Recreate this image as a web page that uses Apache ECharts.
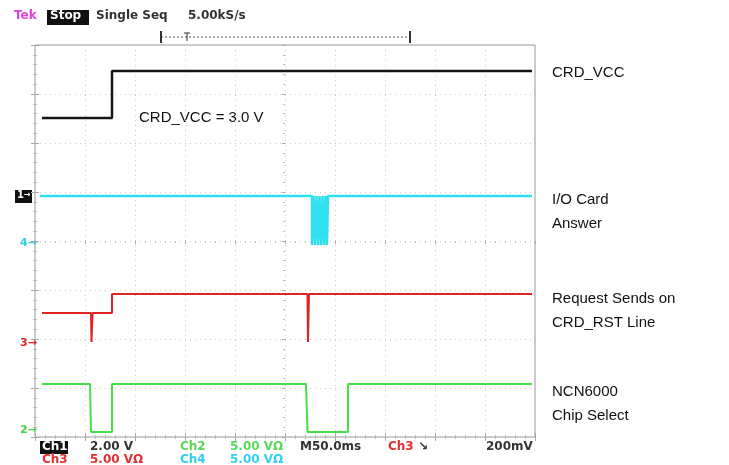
<!DOCTYPE html>
<html>
<head>
<meta charset="utf-8">
<script src="https://cdn.jsdelivr.net/npm/echarts@6/dist/echarts.min.js"></script>
<style>
  html, body { margin: 0; padding: 0; background: #fff; }
  #scope { width: 729px; height: 465px; }
</style>
</head>
<body>
<div id="scope"></div>
<script>
// screen is 10 x 8 divisions, values read in divisions
const vccTrace = [[0.14, 6.51], [1.54, 6.51], [1.54, 7.47], [9.94, 7.47]];
const ioTrace = [
  [0.1, 4.92], [5.54, 4.92], [5.54, 3.92], [5.57, 3.92], [5.57, 4.92], [5.60, 4.92],
  [5.60, 3.92], [5.63, 3.92], [5.63, 4.92], [5.66, 4.92], [5.66, 3.92], [5.69, 3.92],
  [5.69, 4.92], [5.72, 4.92], [5.72, 3.92], [5.75, 3.92], [5.75, 4.92], [5.78, 4.92],
  [5.78, 3.92], [5.81, 3.92], [5.81, 4.92], [5.84, 4.92], [5.84, 3.92], [5.86, 3.92],
  [5.86, 4.92], [9.94, 4.92]
];
const rstTrace = [
  [0.14, 2.53], [1.12, 2.53], [1.13, 1.94], [1.15, 2.53], [1.54, 2.53], [1.54, 2.92],
  [5.45, 2.92], [5.46, 1.94], [5.48, 2.92], [9.94, 2.92]
];
const csTrace = [
  [0.14, 1.08], [1.1, 1.08], [1.12, 0.1], [1.54, 0.1], [1.54, 1.08], [5.42, 1.08],
  [5.45, 0.1], [6.26, 0.1], [6.26, 1.08], [9.94, 1.08]
];
const traceNames = ["CRD_VCC", "I/O Card Answer", "CRD_RST", "Chip Select"];
const traceColors = ["#151515", "#2fe0ee", "#e02424", "#45e045"];
const traceWidths = [2.5, 2.5, 2, 2];
const sideLabels = ["CRD_VCC", "I/O Card\nAnswer", "Request Sends on\nCRD_RST Line", "NCN6000\nChip Select"];
const sideLabelY = [70, 197, 296, 389];

const myChart = echarts.init(document.getElementById("scope"));

const grid = { left: 35, top: 45, width: 500, height: 392 };
const scopeFont = "DejaVu Sans";

function axisBase(min, max, tickInside) {
  return {
    type: "value",
    min: min,
    max: max,
    interval: 1,
    axisLabel: { show: false },
    axisLine: { show: false },
    axisTick: { show: true, inside: tickInside, length: 4, lineStyle: { color: "#aaa" } },
    minorTick: { show: true, splitNumber: 5, length: 2, lineStyle: { color: "#bbb" } },
    splitLine: { show: false }
  };
}

// edge axes: ticks point into the screen
let xBottom = axisBase(0, 10, false);
xBottom.position = "bottom";
xBottom.splitLine = { show: true, lineStyle: { color: "#c8c8c8", type: [1, 4] } };
let xTop = axisBase(0, 10, false);
xTop.position = "top";
let xCenter = axisBase(0, 10, false);
xCenter.position = "bottom";
xCenter.offset = -196;
xCenter.axisTick.length = 3;
let yLeft = axisBase(0, 8, false);
yLeft.position = "left";
yLeft.splitLine = { show: true, lineStyle: { color: "#c8c8c8", type: [1, 4] } };
let yRight = axisBase(0, 8, false);
yRight.position = "right";
let yCenter = axisBase(0, 8, false);
yCenter.position = "left";
yCenter.offset = -250;
yCenter.axisTick.length = 3;

function txt(x, y, s, color, size) {
  return {
    type: "text", left: x, top: y,
    style: { text: s, fill: color, font: "bold " + (size || 12) + "px " + scopeFont }
  };
}

const graphics = [
  // header
  txt(14, 10, "Tek", "#e040e0"),
  { type: "rect", shape: { x: 47, y: 10, width: 42, height: 15 }, style: { fill: "#111" } },
  txt(50, 10, "Stop", "#fff"),
  txt(96, 10, "Single Seq", "#333"),
  txt(188, 10, "5.00kS/s", "#333"),
  // trigger / record bracket
  { type: "line", shape: { x1: 161, y1: 37, x2: 410, y2: 37 }, style: { stroke: "#555", lineWidth: 1, lineDash: [2, 2] } },
  { type: "line", shape: { x1: 161, y1: 31, x2: 161, y2: 43 }, style: { stroke: "#333", lineWidth: 2 } },
  { type: "line", shape: { x1: 410, y1: 31, x2: 410, y2: 43 }, style: { stroke: "#333", lineWidth: 2 } },
  { type: "line", shape: { x1: 187, y1: 33, x2: 187, y2: 41 }, style: { stroke: "#333", lineWidth: 1 } },
  { type: "line", shape: { x1: 184, y1: 33, x2: 190, y2: 33 }, style: { stroke: "#333", lineWidth: 1 } },
  // channel ground markers
  { type: "rect", shape: { x: 15, y: 190, width: 17, height: 13 }, style: { fill: "#111" } },
  txt(17, 190, "1", "#fff", 10),
  txt(24, 191, "→", "#fff", 8),
  txt(20, 238, "4→", "#2fd0e6", 11),
  txt(20, 338, "3→", "#e02424", 11),
  txt(20, 425, "2→", "#45d045", 11),
  // footer
  { type: "rect", shape: { x: 40, y: 441, width: 28, height: 13 }, style: { fill: "#111" } },
  txt(42, 441, "Ch1", "#fff"),
  txt(90, 441, "2.00 V", "#333"),
  txt(180, 441, "Ch2", "#5ad85a"),
  txt(230, 441, "5.00 VΩ", "#5ad85a"),
  txt(300, 441, "M50.0ms", "#333"),
  txt(388, 441, "Ch3", "#e03030"),
  txt(418, 441, "↘", "#333"),
  txt(486, 441, "200mV", "#333"),
  txt(42, 454, "Ch3", "#e03030"),
  txt(90, 454, "5.00 VΩ", "#e03030"),
  txt(180, 454, "Ch4", "#30d0ee"),
  txt(230, 454, "5.00 VΩ", "#30d0ee"),
  // annotation
  { type: "text", left: 139, top: 110, style: { text: "CRD_VCC = 3.0 V", fill: "#111", font: "15px 'Liberation Sans', Arial" } }
];
for (let i = 0; i < sideLabels.length; i++) {
  graphics.push({
    type: "text", left: 552, top: sideLabelY[i] - 9,
    style: { text: sideLabels[i], fill: "#111", font: "15px 'Liberation Sans', Arial", lineHeight: 24 }
  });
}

const traces = [vccTrace, ioTrace, rstTrace, csTrace];
let series = [];
for (let i = 0; i < traces.length; i++) {
  series.push({
    name: traceNames[i],
    type: "line",
    data: traces[i],
    showSymbol: false,
    animation: false,
    lineStyle: { color: traceColors[i], width: traceWidths[i] },
    z: 5
  });
}

const options = {
  backgroundColor: "#fff",
  animation: false,
  grid: Object.assign({ show: true, borderColor: "#999", borderWidth: 1, backgroundColor: "#fff" }, grid),
  xAxis: [xBottom, xTop, xCenter],
  yAxis: [yLeft, yRight, yCenter],
  graphic: graphics,
  series: series
};

myChart.setOption(options);
window.addEventListener("resize", () => {
  myChart.resize();
});
</script>
</body>
</html>
